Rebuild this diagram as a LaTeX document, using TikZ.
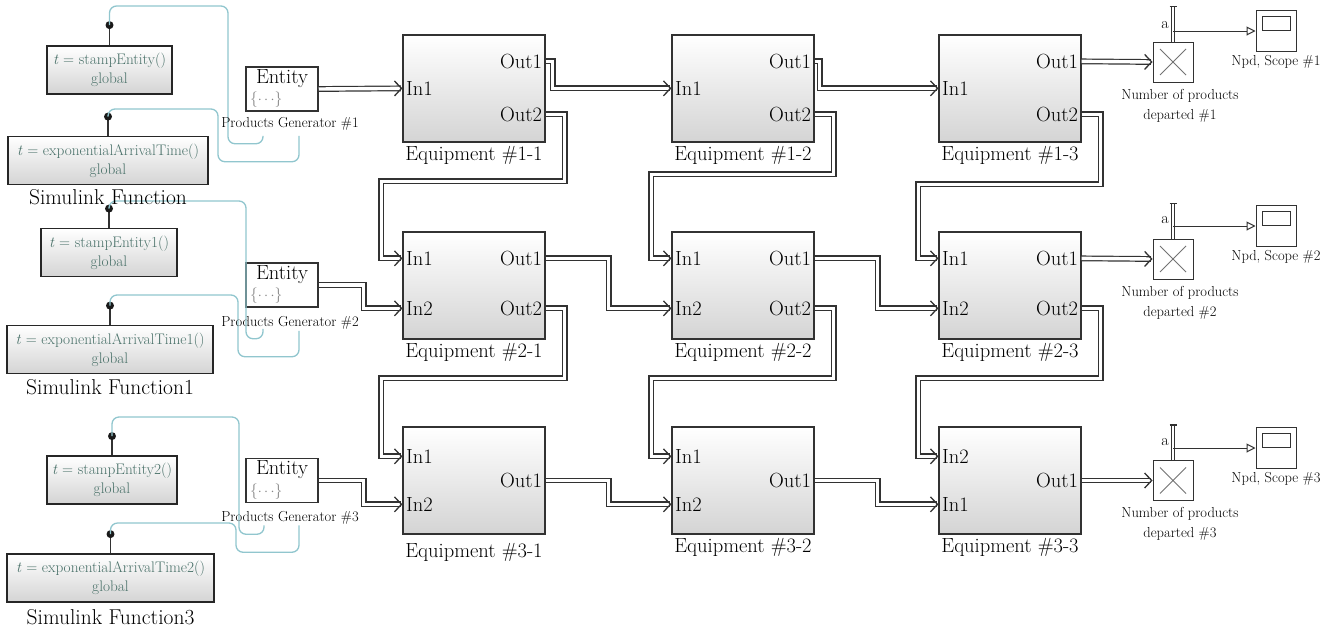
\documentclass[tikz,border=0pt]{standalone}
\usepackage{fontspec}
\setmainfont{Latin Modern Roman}
\usetikzlibrary{arrows.meta}
\definecolor{wire}{RGB}{50,50,50}
\definecolor{shade}{RGB}{212,212,212}
\definecolor{fcntext}{RGB}{72,112,104}
\definecolor{trigger}{RGB}{145,198,206}
\definecolor{dotsgray}{RGB}{135,135,135}
\tikzstyle{equip}=[draw=wire, line width=1.3pt, top color=white, bottom color=shade, minimum width=142pt, minimum height=107pt, inner sep=0pt]
\tikzstyle{port}=[inner xsep=3.5pt, inner ysep=0pt]
\tikzstyle{fcn}=[draw=black!85, line width=1.8pt, top color=white, bottom color=shade, minimum height=48pt, inner sep=0pt, align=center, text=fcntext, font=\fontsize{15.3}{19}\selectfont]
\tikzstyle{gen}=[draw=wire, line width=1.5pt, fill=white, minimum width=72pt, minimum height=44pt]
\tikzstyle{mult}=[draw=wire, line width=1pt, fill=white, minimum size=40pt, path picture={\draw[black!55, line width=0.8pt] ([shift={(7pt,-7pt)}]path picture bounding box.north west) -- ([shift={(-7pt,7pt)}]path picture bounding box.south east) ([shift={(-7pt,-7pt)}]path picture bounding box.north east) -- ([shift={(7pt,7pt)}]path picture bounding box.south west);}]
\tikzstyle{scopebox}=[draw=wire, line width=1pt, fill=white, minimum width=40pt, minimum height=41pt, path picture={\draw[wire, line width=1pt] ([shift={(6pt,-6pt)}]path picture bounding box.north west) rectangle ([shift={(-6pt,-20pt)}]path picture bounding box.north east);}]
\tikzstyle{flow}=[draw=wire, line width=1.2pt, double=white, double distance=3.4pt, -{Straight Barb[length=7pt, width=15pt, line width=1.3pt]}]
\tikzstyle{sig}=[draw=wire, line width=1pt, -{Triangle[open, length=9pt, width=9pt]}]
\tikzstyle{aport}=[draw=wire, line width=0.9pt, double=white, double distance=2pt]
\tikzstyle{trig}=[draw=trigger, line width=1.3pt, rounded corners=7pt]
\tikzstyle{smalltxt}=[font=\fontsize{14.5}{20}\selectfont]
\tikzstyle{caption}=[font=\fontsize{21.5}{24}\selectfont]
\newcommand{\equip}{\node[equip]}

\begin{document}
\begin{tikzpicture}[x=1pt, y=-1pt, font=\fontsize{20.5}{23}\selectfont]
\useasboundingbox (0,0) rectangle (1338,633);

% function-call blocks and their trigger dots
\node[fcn, minimum width=125pt] (f1) at (109.5,70) {\textit{t} = stampEntity()\\global};
\node[fcn, minimum width=200pt] (f2) at (108,160.5) {\textit{t} = exponentialArrivalTime()\\global};
\node[fcn, minimum width=136pt] (f3) at (109,252.5) {\textit{t} = stampEntity1()\\global};
\node[fcn, minimum width=206pt] (f4) at (110,349.5) {\textit{t} = exponentialArrivalTime1()\\global};
\node[fcn, minimum width=130pt] (f5) at (112,480) {\textit{t} = stampEntity2()\\global};
\node[fcn, minimum width=207pt] (f6) at (110.5,578) {\textit{t} = exponentialArrivalTime2()\\global};
\draw[wire, line width=1.5pt] (f1.north) -- ++(0,-20) coordinate (d1);
\draw[wire, line width=1.5pt] (f2.north) -- ++(0,-19) coordinate (d2);
\draw[wire, line width=1.5pt] (f3.north) -- ++(0,-19) coordinate (d3);
\draw[wire, line width=1.5pt] (f4.north) -- ++(0,-19) coordinate (d4);
\draw[wire, line width=1.5pt] (f5.north) -- ++(0,-19) coordinate (d5);
\draw[wire, line width=1.5pt] (f6.north) -- ++(0,-19) coordinate (d6);
\foreach \d in {d1,d2,d3,d4,d5,d6} \fill[black!90] (\d) circle (4pt);

% entity generators
\node[gen] (g1) at (282,89) {};
\node[gen] (g2) at (282,285) {};
\node[gen] (g3) at (282,480.5) {};
\foreach \g in {g1,g2,g3} {
  \node at ([yshift=-12pt]\g.north) {Entity};
  \node[text=dotsgray, font=\fontsize{15.5}{17}\selectfont] at ([xshift=21pt,yshift=12pt]\g.south west) {\{$\cdots$\}};
}
\coordinate (t1a) at ([xshift=-19pt,yshift=-24pt]g1.south);
\coordinate (t1b) at ([xshift=17pt,yshift=-24pt]g1.south);
\coordinate (t2a) at ([xshift=-19pt,yshift=-21pt]g2.south);
\coordinate (t2b) at ([xshift=17pt,yshift=-23pt]g2.south);
\coordinate (t3a) at ([xshift=-18pt,yshift=-22pt]g3.south);
\coordinate (t3b) at ([xshift=17pt,yshift=-22pt]g3.south);

% trigger lines
\draw[trig] (d1) |- (228,6) |- ([yshift=-8pt]t1a) -- (t1a);
\draw[trig] (d2) |- (218,109) |- ([yshift=-26pt]t1b) -- (t1b);
\draw[trig] (d3) |- (246,201) |- ([yshift=-10pt]t2a) -- (t2a);
\draw[trig] (d4) |- (238,295) |- ([yshift=-26pt]t2b) -- (t2b);
\draw[trig] (d5) |- (239,417) |- ([yshift=-9pt]t3a) -- (t3a);
\draw[trig] (d6) |- (236,523) |- ([yshift=-27pt]t3b) -- (t3b);

\node[smalltxt] (pg1) at ([xshift=8pt,yshift=-12pt]g1.south) {Products Generator \#1};
\node[smalltxt] (pg2) at ([xshift=8pt,yshift=-15pt]g2.south) {Products Generator \#2};
\node[smalltxt] (pg3) at ([xshift=8pt,yshift=-15pt]g3.south) {Products Generator \#3};
\node[caption] (sf1) at ([yshift=-12pt]f2.south) {Simulink Function};
\node[caption] (sf2) at ([yshift=-13pt]f4.south) {Simulink Function1};
\node[caption] (sf3) at ([yshift=-14pt]f6.south) {Simulink Function3};

% equipment grid
\equip (e11) at (474,88.5) [label=below:{Equipment \#1-1}] {};
\equip (e12) at (743,88.5) [label=below:{Equipment \#1-2}] {};
\equip (e13) at (1010,88.5) [label=below:{Equipment \#1-3}] {};
\equip (e21) at (474,285.5) [label=below:{Equipment \#2-1}] {};
\equip (e22) at (743,285.5) [label=below:{Equipment \#2-2}] {};
\equip (e23) at (1010,285.5) [label=below:{Equipment \#2-3}] {};
\equip (e31) at (474,480.5) [label={[yshift=-5pt]below:{Equipment \#3-1}}] {};
\equip (e32) at (743,480.5) [label=below:{Equipment \#3-2}] {};
\equip (e33) at (1010,480.5) [label=below:{Equipment \#3-3}] {};

\node[port, anchor=west] (e11i1) at ([yshift=-54pt]e11.north west) {In1};
\node[port, anchor=east] (e11o1) at ([yshift=-27pt]e11.north east) {Out1};
\node[port, anchor=east] (e11o2) at ([yshift=-80pt]e11.north east) {Out2};
\node[port, anchor=west] (e12i1) at ([yshift=-54pt]e12.north west) {In1};
\node[port, anchor=east] (e12o1) at ([yshift=-27pt]e12.north east) {Out1};
\node[port, anchor=east] (e12o2) at ([yshift=-80pt]e12.north east) {Out2};
\node[port, anchor=west] (e13i1) at ([yshift=-54pt]e13.north west) {In1};
\node[port, anchor=east] (e13o1) at ([yshift=-27pt]e13.north east) {Out1};
\node[port, anchor=east] (e13o2) at ([yshift=-80pt]e13.north east) {Out2};

\node[port, anchor=west] (e21i1) at ([yshift=-27pt]e21.north west) {In1};
\node[port, anchor=west] (e21i2) at ([yshift=-77pt]e21.north west) {In2};
\node[port, anchor=east] (e21o1) at ([yshift=-27pt]e21.north east) {Out1};
\node[port, anchor=east] (e21o2) at ([yshift=-77pt]e21.north east) {Out2};
\node[port, anchor=west] (e22i1) at ([yshift=-27pt]e22.north west) {In1};
\node[port, anchor=west] (e22i2) at ([yshift=-77pt]e22.north west) {In2};
\node[port, anchor=east] (e22o1) at ([yshift=-27pt]e22.north east) {Out1};
\node[port, anchor=east] (e22o2) at ([yshift=-77pt]e22.north east) {Out2};
\node[port, anchor=west] (e23i1) at ([yshift=-27pt]e23.north west) {In1};
\node[port, anchor=west] (e23i2) at ([yshift=-77pt]e23.north west) {In2};
\node[port, anchor=east] (e23o1) at ([yshift=-27pt]e23.north east) {Out1};
\node[port, anchor=east] (e23o2) at ([yshift=-77pt]e23.north east) {Out2};

\node[port, anchor=west] (e31i1) at ([yshift=-30pt]e31.north west) {In1};
\node[port, anchor=west] (e31i2) at ([yshift=-78pt]e31.north west) {In2};
\node[port, anchor=east] (e31o1) at (e31.east) {Out1};
\node[port, anchor=west] (e32i1) at ([yshift=-30pt]e32.north west) {In1};
\node[port, anchor=west] (e32i2) at ([yshift=-78pt]e32.north west) {In2};
\node[port, anchor=east] (e32o1) at (e32.east) {Out1};
\node[port, anchor=west] (e33i2) at ([yshift=-30pt]e33.north west) {In2};
\node[port, anchor=west] (e33i1) at ([yshift=-78pt]e33.north west) {In1};
\node[port, anchor=east] (e33o1) at (e33.east) {Out1};

% counters and scopes
\node[mult] (m1) at (1173,62) {};
\node[mult] (m2) at (1173,259) {};
\node[mult] (m3) at (1173,480.5) {};
\node[scopebox] (s1) at (1276,31) {};
\node[scopebox] (s2) at (1276,226) {};
\node[scopebox] (s3) at (1276,448) {};
\node[smalltxt, align=center, below] at ([xshift=7pt,yshift=-3pt]m1.south) {Number of products\\departed \#1};
\node[smalltxt, align=center, below] at ([xshift=7pt,yshift=-3pt]m2.south) {Number of products\\departed \#2};
\node[smalltxt, align=center, below] at ([xshift=7pt,yshift=-3pt]m3.south) {Number of products\\departed \#3};
\node[smalltxt, below] at (s1.south) {Npd, Scope \#1};
\node[smalltxt, below] at (s2.south) {Npd, Scope \#2};
\node[smalltxt, below] at (s3.south) {Npd, Scope \#3};
\foreach \m/\s in {m1/s1,m2/s2,m3/s3} {
  \draw[aport] (\m.north) -- ++(0,-35) coordinate (\m top);
  \draw[wire, line width=1.3pt] ([xshift=-3.5pt]\m top) -- ([xshift=3.5pt]\m top);
  \draw[sig] (\m.north |- \s.west) -- (\s.west);
  \node[font=\fontsize{16}{18}\selectfont, anchor=east, inner sep=1pt] at ([xshift=-3pt,yshift=6pt]\m.north |- \s.west) {a};
}

% entity flow
\draw[flow] (g1.east) -- (e11i1.west);
\draw[flow] (g2.east) -- ++(45,0) |- (e21i2.west);
\draw[flow] (g3.east) -- ++(45,0) |- (e31i2.west);
\draw[flow] (e11o1.east) -- ++(7,0) |- (e12i1.west);
\draw[flow] (e12o1.east) -- ++(5,0) |- (e13i1.west);
\draw[flow] (e13o1.east) -- (m1.west);
\draw[flow] (e11o2.east) -- ++(19,0) -- ++(0,67) -| ([xshift=-21pt]e21i1.west) -- (e21i1.west);
\draw[flow] (e12o2.east) -- ++(19,0) -- ++(0,60) -| ([xshift=-20pt]e22i1.west) -- (e22i1.west);
\draw[flow] (e13o2.east) -- ++(19,0) -- ++(0,70) -| ([xshift=-20pt]e23i1.west) -- (e23i1.west);
\draw[flow] (e21o1.east) -- ++(63,0) |- (e22i2.west);
\draw[flow] (e22o1.east) -- ++(63,0) |- (e23i2.west);
\draw[flow] (e23o1.east) -- (m2.west);
\draw[flow] (e21o2.east) -- ++(19,0) -- ++(0,70) -| ([xshift=-21pt]e31i1.west) -- (e31i1.west);
\draw[flow] (e22o2.east) -- ++(19,0) -- ++(0,70) -| ([xshift=-20pt]e32i1.west) -- (e32i1.west);
\draw[flow] (e23o2.east) -- ++(19,0) -- ++(0,70) -| ([xshift=-20pt]e33i2.west) -- (e33i2.west);
\draw[flow] (e31o1.east) -- ++(63,0) |- (e32i2.west);
\draw[flow] (e32o1.east) -- ++(63,0) |- (e33i1.west);
\draw[flow] (e33o1.east) -- (m3.west);
\end{tikzpicture}
\end{document}
